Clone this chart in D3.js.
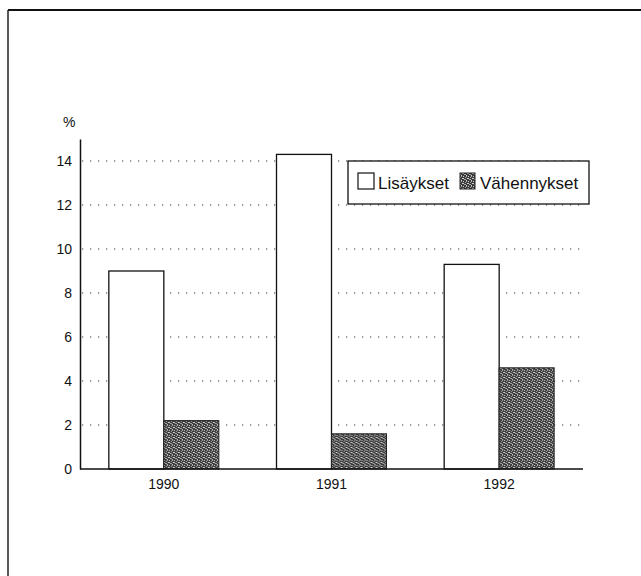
<!DOCTYPE html>
<html>
<head>
<meta charset="utf-8">
<script src="https://cdn.jsdelivr.net/npm/d3@7"></script>
<style>
  body { margin: 0; background: #fff; }
  svg { display: block; font-family: "Liberation Sans", Arial, sans-serif; }
</style>
</head>
<body>
<svg id="chart" width="641" height="576"></svg>
<script>
// values
const years = ["1990", "1991", "1992"]
const lisaykset = [9.0, 14.3, 9.3]
const vahennykset = [2.2, 1.6, 4.6]
const yTicks = [0, 2, 4, 6, 8, 10, 12, 14]
const seriesNames = ["Lisäykset", "Vähennykset"]

const svg = d3.select('#chart')

// stippled dark fill for the second series (fixed dot layout, 5x5 tile)
const defs = svg.append('defs')
const pat = defs.append('pattern')
  .attr('id', 'stipple')
  .attr('width', 5).attr('height', 5)
  .attr('patternUnits', 'userSpaceOnUse')
pat.append('rect').attr('width', 5).attr('height', 5).attr('fill', '#3c3c3c')
const lightDots = [[0, 0], [2, 1], [4, 2], [1, 3], [3, 4], [3, 0], [0, 2], [2, 3]]
pat.selectAll('.dot').data(lightDots).enter().append('rect')
  .attr('x', d => d[0]).attr('y', d => d[1])
  .attr('width', 1).attr('height', 1)
  .attr('fill', (d, i) => i % 2 ? '#a8a8a8' : '#d0d0d0')

// page frame (top and left edge only)
svg.append('line').attr('x1', 8).attr('x2', 641).attr('y1', 10).attr('y2', 10)
  .attr('stroke', '#111').attr('stroke-width', 2)
svg.append('line').attr('x1', 8).attr('x2', 8).attr('y1', 10).attr('y2', 576)
  .attr('stroke', '#222').attr('stroke-width', 1.5)

const x0 = 80, x1 = 583
const y = d3.scaleLinear().domain([0, 15]).range([469, 139])
const x = d3.scaleBand().domain(years).range([x0, x1])
  .paddingInner(0.344).paddingOuter(0.172)
const xs = d3.scaleBand().domain(seriesNames).range([0, x.bandwidth()])

// dotted grid lines
svg.append('g').selectAll('line')
  .data(yTicks.filter(d => d > 0))
  .enter().append('line')
  .attr('x1', x0 + 2).attr('x2', x1)
  .attr('y1', d => y(d)).attr('y2', d => y(d))
  .attr('stroke', '#333').attr('stroke-width', 1.2)
  .attr('stroke-dasharray', '1.2,6.8')

// bars
const groups = svg.append('g').selectAll('g')
  .data(years)
  .enter().append('g')
  .attr('transform', d => `translate(${x(d)},0)`)

groups.append('rect')
  .attr('x', xs(seriesNames[0]))
  .attr('y', (d, i) => y(lisaykset[i]))
  .attr('width', xs.bandwidth())
  .attr('height', (d, i) => y(0) - y(lisaykset[i]))
  .attr('fill', '#fff').attr('stroke', '#111').attr('stroke-width', 1.3)

groups.append('rect')
  .attr('x', xs(seriesNames[1]))
  .attr('y', (d, i) => y(vahennykset[i]))
  .attr('width', xs.bandwidth())
  .attr('height', (d, i) => y(0) - y(vahennykset[i]))
  .attr('fill', 'url(#stipple)').attr('stroke', '#222').attr('stroke-width', 1)

// y axis
const yAxis = svg.append('g')
  .attr('transform', `translate(${x0},0)`)
  .call(d3.axisLeft(y).tickValues(yTicks).tickSize(0).tickPadding(8))
yAxis.select('.domain').attr('stroke', '#111').attr('stroke-width', 1.5)
yAxis.selectAll('text').attr('font-size', 14).attr('fill', '#111')
  .attr('font-family', '"Liberation Sans", Arial, sans-serif')

// x axis
const xAxis = svg.append('g')
  .attr('transform', `translate(0,${y(0)})`)
  .call(d3.axisBottom(x).tickSize(0).tickPadding(10))
xAxis.select('.domain').attr('stroke', '#111').attr('stroke-width', 1.5)
  .attr('d', `M${x0},0H${x1}`)
xAxis.selectAll('text').attr('font-size', 14).attr('fill', '#111')
  .attr('font-family', '"Liberation Sans", Arial, sans-serif')

// unit label
svg.append('text').attr('x', 63).attr('y', 127)
  .attr('font-size', 14).attr('fill', '#111').text('%')

// legend
const lg = svg.append('g').attr('transform', 'translate(348,161)')
lg.append('rect').attr('width', 241).attr('height', 43)
  .attr('fill', '#fff').attr('stroke', '#111').attr('stroke-width', 1.3)
lg.append('rect').attr('x', 10).attr('y', 12).attr('width', 16).attr('height', 16)
  .attr('fill', '#fff').attr('stroke', '#111').attr('stroke-width', 1.2)
lg.append('text').attr('x', 30).attr('y', 28).attr('font-size', 17).attr('fill', '#111')
  .text(seriesNames[0])
lg.append('rect').attr('x', 112).attr('y', 12).attr('width', 15).attr('height', 16)
  .attr('fill', 'url(#stipple)').attr('stroke', '#222').attr('stroke-width', 1)
lg.append('text').attr('x', 132).attr('y', 28).attr('font-size', 17).attr('fill', '#111')
  .text(seriesNames[1])
</script>
</body>
</html>
